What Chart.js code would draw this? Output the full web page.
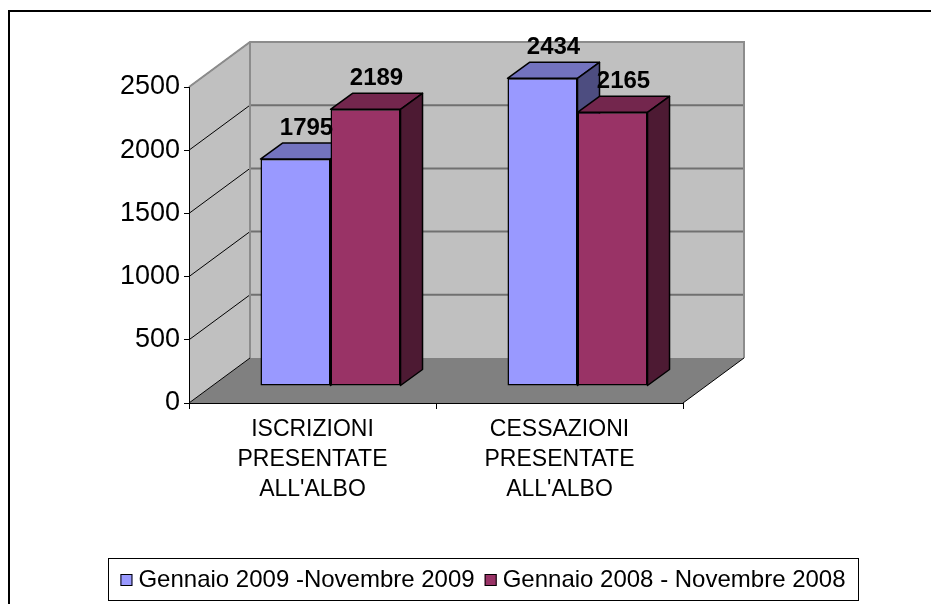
<!DOCTYPE html>
<html>
<head>
<meta charset="utf-8">
<script src="https://cdn.jsdelivr.net/npm/chart.js@4.4.1/dist/chart.umd.min.js"></script>
<style>
  html, body { margin: 0; padding: 0; background: #fff; }
  #wrap { width: 931px; height: 604px; position: relative; }
</style>
</head>
<body>
<div id="wrap"><canvas id="myChart" width="931" height="604"></canvas></div>
<script>
const categories = [["ISCRIZIONI", "PRESENTATE", "ALL'ALBO"], ["CESSAZIONI", "PRESENTATE", "ALL'ALBO"]]
const seriesNames = ["Gennaio 2009 -Novembre 2009", "Gennaio 2008 - Novembre 2008"]
const values2009 = [1795, 2434]
const values2008 = [2189, 2165]
const yMax = 2500
const yStep = 500

const frontColors = ['#9999FF', '#993366']
const topColors = ['#7373BF', '#73264D']
const sideColors = ['#4D4D80', '#4D1A33']

// depth of the box walls and of the bars (pixels, oblique projection)
const WALL = { dx: 61, dy: -45 }
const SHIFT = { dx: 18, dy: -17 }
const BAR = { dx: 22, dy: -16 }

const fontFam = '"Liberation Sans", Arial, sans-serif'

const box3d = {
  id: 'box3d',
  beforeDraw (chart) {
    const { ctx, chartArea: a } = chart
    const y = chart.scales.y
    const L = a.left, R = a.right, B = a.bottom, T = a.top
    ctx.save()
    ctx.fillStyle = '#fff'
    ctx.fillRect(0, 0, chart.width, chart.height)
    // side wall
    ctx.fillStyle = '#C0C0C0'
    ctx.beginPath()
    ctx.moveTo(L, T); ctx.lineTo(L + WALL.dx, T + WALL.dy)
    ctx.lineTo(L + WALL.dx, B + WALL.dy); ctx.lineTo(L, B)
    ctx.closePath(); ctx.fill()
    // back wall
    ctx.fillRect(L + WALL.dx, T + WALL.dy, R - L, B - T)
    // floor
    ctx.fillStyle = '#808080'
    ctx.beginPath()
    ctx.moveTo(L, B); ctx.lineTo(L + WALL.dx, B + WALL.dy)
    ctx.lineTo(R + WALL.dx, B + WALL.dy); ctx.lineTo(R, B)
    ctx.closePath(); ctx.fill()
    // grid lines
    for (let v = yStep; v <= yMax; v += yStep) {
      const py = y.getPixelForValue(v)
      ctx.strokeStyle = '#000'; ctx.lineWidth = 1
      ctx.beginPath(); ctx.moveTo(L, py); ctx.lineTo(L + WALL.dx, py + WALL.dy); ctx.stroke()
      ctx.strokeStyle = '#707070'; ctx.lineWidth = 2
      ctx.beginPath(); ctx.moveTo(L + WALL.dx, py + WALL.dy); ctx.lineTo(R + WALL.dx, py + WALL.dy); ctx.stroke()
    }
    // wall edges
    ctx.strokeStyle = '#8C8C8C'; ctx.lineWidth = 2
    ctx.beginPath()
    ctx.moveTo(L, T); ctx.lineTo(L + WALL.dx, T + WALL.dy); ctx.lineTo(R + WALL.dx, T + WALL.dy)
    ctx.lineTo(R + WALL.dx, B + WALL.dy)
    ctx.moveTo(L + WALL.dx, T + WALL.dy); ctx.lineTo(L + WALL.dx, B + WALL.dy)
    ctx.stroke()
    ctx.strokeStyle = '#000'; ctx.lineWidth = 1
    ctx.beginPath()
    ctx.moveTo(L, B); ctx.lineTo(L + WALL.dx, B + WALL.dy)
    ctx.moveTo(R, B); ctx.lineTo(R + WALL.dx, B + WALL.dy)
    ctx.stroke()
    ctx.restore()
  },
  beforeDatasetsDraw (chart) {
    const { ctx } = chart
    const metas = chart.data.datasets.map((d, i) => chart.getDatasetMeta(i))
    for (let i = 0; i < categories.length; i++) {
      metas.forEach((meta, d) => {
        const el = meta.data[i]
        const { x, y, base, width } = el.getProps(['x', 'y', 'base', 'width'], true)
        const l = x - width / 2, r = x + width / 2
        ctx.save()
        ctx.translate(SHIFT.dx, SHIFT.dy)
        el.draw(ctx)
        ctx.lineWidth = 1.5
        ctx.strokeStyle = '#000'
        ctx.lineJoin = 'round'
        ctx.fillStyle = topColors[d]
        ctx.beginPath()
        ctx.moveTo(l, y); ctx.lineTo(l + BAR.dx, y + BAR.dy)
        ctx.lineTo(r + BAR.dx, y + BAR.dy); ctx.lineTo(r, y)
        ctx.closePath(); ctx.fill(); ctx.stroke()
        ctx.fillStyle = sideColors[d]
        ctx.beginPath()
        ctx.moveTo(r, y); ctx.lineTo(r + BAR.dx, y + BAR.dy)
        ctx.lineTo(r + BAR.dx, base + BAR.dy); ctx.lineTo(r, base)
        ctx.closePath(); ctx.fill(); ctx.stroke()
        ctx.restore()
      })
    }
    return false
  },
  afterDraw (chart) {
    const { ctx } = chart
    ctx.save()
    // value labels
    ctx.font = 'bold 24px ' + fontFam
    ctx.fillStyle = '#000'
    ctx.textAlign = 'center'
    ctx.textBaseline = 'middle'
    chart.data.datasets.forEach((ds, d) => {
      chart.getDatasetMeta(d).data.forEach((el, i) => {
        ctx.fillText(String(ds.data[i]), el.x + SHIFT.dx + BAR.dx / 2, el.y + SHIFT.dy - 31)
      })
    })
    // legend
    ctx.font = '24px ' + fontFam
    ctx.textAlign = 'left'
    const sq = 12, gap = 6, sep = 10
    const widths = seriesNames.map(n => ctx.measureText(n).width)
    const total = widths.reduce((s, w) => s + w, 0) + seriesNames.length * (sq + gap) + sep
    const boxL = 108, boxR = 858, boxT = 558, boxB = 600
    ctx.fillStyle = '#fff'
    ctx.fillRect(boxL, boxT, boxR - boxL, boxB - boxT)
    ctx.strokeStyle = '#000'; ctx.lineWidth = 1
    ctx.strokeRect(boxL + 0.5, boxT + 0.5, boxR - boxL, boxB - boxT)
    let lx = (boxL + boxR) / 2 - total / 2
    const ly = (boxT + boxB) / 2 + 1
    seriesNames.forEach((n, d) => {
      ctx.fillStyle = frontColors[d]
      ctx.fillRect(lx, ly - sq / 2, sq, sq)
      ctx.strokeRect(lx + 0.5, ly - sq / 2 + 0.5, sq - 1, sq - 1)
      ctx.fillStyle = '#000'
      ctx.fillText(n, lx + sq + gap, ly)
      lx += sq + gap + widths[d] + sep
    })
    // outer frame
    ctx.lineWidth = 2
    ctx.beginPath()
    ctx.moveTo(9, chart.height); ctx.lineTo(9, 11); ctx.lineTo(chart.width, 11)
    ctx.stroke()
    ctx.restore()
  }
}

const chart = new Chart(document.getElementById('myChart'), {
  type: 'bar',
  data: {
    labels: categories,
    datasets: [
      { label: seriesNames[0], data: values2009, backgroundColor: frontColors[0] },
      { label: seriesNames[1], data: values2008, backgroundColor: frontColors[1] }
    ]
  },
  options: {
    responsive: false,
    animation: false,
    devicePixelRatio: 1,
    layout: { padding: { top: 87, right: 248, bottom: 0, left: 0 } },
    datasets: {
      bar: {
        categoryPercentage: 0.567,
        barPercentage: 1,
        borderColor: '#000',
        borderWidth: 1.5,
        borderSkipped: false
      }
    },
    plugins: { legend: { display: false }, tooltip: { enabled: false } },
    scales: {
      x: {
        grid: { display: true, drawOnChartArea: false, tickLength: 6, color: '#000', offset: true },
        border: { display: true, color: '#000', width: 1 },
        ticks: { color: '#000', padding: 6, maxRotation: 0, autoSkip: false,
          font: { family: fontFam, size: 23, lineHeight: '30px' } },
        afterFit (s) { s.height = 201 }
      },
      y: {
        min: 0, max: yMax,
        grid: { display: true, drawOnChartArea: false, tickLength: 5, color: '#000' },
        border: { display: true, color: '#000', width: 1 },
        ticks: { stepSize: yStep, color: '#000', padding: 4,
          font: { family: fontFam, size: 27 },
          callback: v => String(v) },
        afterFit (s) { s.width = 189 }
      }
    }
  },
  plugins: [box3d]
})
</script>
</body>
</html>
